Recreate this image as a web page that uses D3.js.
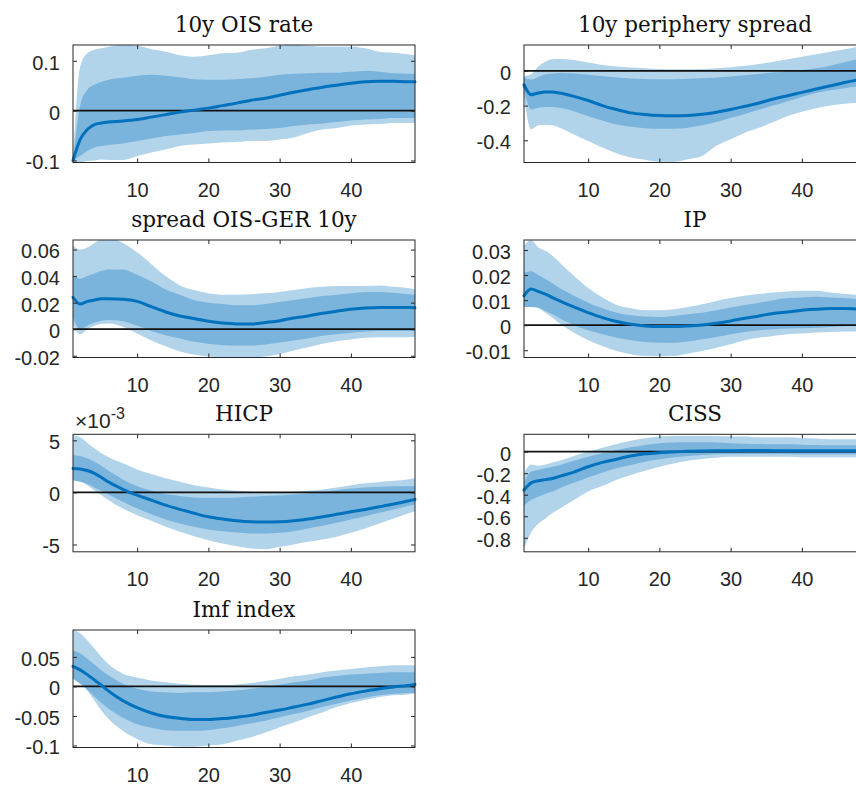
<!DOCTYPE html>
<html>
<head>
<meta charset="utf-8">
<script src="https://cdn.jsdelivr.net/npm/d3@7"></script>
<style>
  html, body { margin: 0; padding: 0; background: #ffffff; }
  svg { display: block; overflow: hidden; }
</style>
</head>
<body>
<svg id="chart" width="856" height="787"></svg>
<script>
// Impulse responses: median with 68% (inner) and 90% (outer) credible bands
const horizons = [1, 2, 3, 4, 5, 6, 8, 10, 12, 14, 16, 18, 20, 22, 24, 26, 28, 30, 32, 34, 36, 38, 40, 42, 44, 46, 48, 49];
const xTicks = [10, 20, 30, 40];

// 10y OIS rate
const oisMedian  = [-0.1, -0.058, -0.038, -0.028, -0.025, -0.023, -0.021, -0.018, -0.013, -0.008, -0.003, 0.001, 0.005, 0.010, 0.015, 0.021, 0.025, 0.031, 0.037, 0.042, 0.047, 0.051, 0.055, 0.058, 0.059, 0.059, 0.058, 0.058];
const oisInnerHi = [-0.1, 0.010, 0.042, 0.052, 0.058, 0.062, 0.066, 0.070, 0.072, 0.070, 0.067, 0.063, 0.062, 0.062, 0.063, 0.065, 0.068, 0.072, 0.074, 0.075, 0.076, 0.076, 0.078, 0.080, 0.078, 0.075, 0.074, 0.074];
const oisInnerLo = [-0.1, -0.091, -0.081, -0.074, -0.071, -0.069, -0.066, -0.061, -0.056, -0.051, -0.048, -0.045, -0.041, -0.040, -0.040, -0.038, -0.037, -0.035, -0.031, -0.028, -0.026, -0.023, -0.020, -0.018, -0.017, -0.015, -0.015, -0.015];
const oisOuterHi = [-0.1, 0.088, 0.115, 0.122, 0.125, 0.128, 0.132, 0.130, 0.123, 0.118, 0.111, 0.108, 0.111, 0.115, 0.116, 0.122, 0.125, 0.130, 0.132, 0.130, 0.128, 0.128, 0.128, 0.125, 0.118, 0.116, 0.113, 0.111];
const oisOuterLo = [-0.1, -0.104, -0.101, -0.100, -0.098, -0.099, -0.099, -0.091, -0.084, -0.078, -0.071, -0.068, -0.066, -0.064, -0.063, -0.061, -0.061, -0.058, -0.054, -0.045, -0.038, -0.035, -0.030, -0.028, -0.027, -0.025, -0.025, -0.025];
const oisLimits = [-0.104, 0.1316];
const oisTicks = [-0.1, 0, 0.1];

// 10y periphery spread
const perMedian  = [-0.08, -0.137, -0.128, -0.122, -0.122, -0.128, -0.147, -0.171, -0.200, -0.223, -0.242, -0.251, -0.257, -0.259, -0.257, -0.250, -0.238, -0.223, -0.204, -0.185, -0.162, -0.143, -0.124, -0.105, -0.086, -0.067, -0.051, -0.044];
const perInnerHi = [-0.04, -0.05, -0.035, -0.02, -0.015, -0.012, -0.015, -0.022, -0.030, -0.038, -0.044, -0.047, -0.048, -0.048, -0.046, -0.043, -0.038, -0.032, -0.025, -0.018, -0.010, -0.003, 0.005, 0.015, 0.030, 0.050, 0.068, 0.074];
const perInnerLo = [-0.109, -0.223, -0.213, -0.208, -0.208, -0.213, -0.232, -0.261, -0.286, -0.309, -0.322, -0.330, -0.333, -0.333, -0.328, -0.314, -0.295, -0.270, -0.248, -0.223, -0.200, -0.175, -0.150, -0.128, -0.112, -0.100, -0.088, -0.083];
const perOuterHi = [-0.03, -0.02, 0.025, 0.053, 0.067, 0.069, 0.063, 0.048, 0.034, 0.025, 0.019, 0.015, 0.011, 0.010, 0.010, 0.011, 0.015, 0.021, 0.029, 0.040, 0.053, 0.067, 0.082, 0.095, 0.110, 0.124, 0.140, 0.145];
const perOuterLo = [-0.147, -0.337, -0.314, -0.310, -0.314, -0.328, -0.366, -0.404, -0.442, -0.474, -0.499, -0.512, -0.524, -0.524, -0.509, -0.490, -0.432, -0.394, -0.356, -0.328, -0.295, -0.260, -0.235, -0.215, -0.200, -0.190, -0.185, -0.183];
const perLimits = [-0.528, 0.149];
const perTicks = [-0.4, -0.2, 0];

// spread OIS-GER 10y
const gerMedian  = [0.024, 0.019, 0.021, 0.022, 0.023, 0.023, 0.0226, 0.021, 0.017, 0.013, 0.010, 0.008, 0.006, 0.0046, 0.004, 0.004, 0.005, 0.0064, 0.0085, 0.010, 0.012, 0.0136, 0.015, 0.016, 0.0164, 0.0164, 0.0164, 0.0162];
const gerInnerHi = [0.041, 0.038, 0.040, 0.042, 0.044, 0.045, 0.045, 0.041, 0.036, 0.030, 0.026, 0.022, 0.020, 0.019, 0.018, 0.018, 0.019, 0.0205, 0.022, 0.0236, 0.025, 0.026, 0.027, 0.028, 0.028, 0.0274, 0.0264, 0.026];
const gerInnerLo = [0.009, 0.000, 0.0026, 0.005, 0.0064, 0.007, 0.006, 0.0026, -0.0013, -0.0046, -0.007, -0.0095, -0.011, -0.012, -0.0123, -0.0123, -0.0115, -0.010, -0.0085, -0.007, -0.005, -0.0038, -0.0026, -0.0018, -0.0013, -0.0013, -0.0013, -0.0013];
const gerOuterHi = [0.063, 0.060, 0.0615, 0.065, 0.068, 0.069, 0.065, 0.058, 0.049, 0.040, 0.033, 0.0295, 0.027, 0.026, 0.026, 0.0264, 0.027, 0.028, 0.0295, 0.031, 0.032, 0.0326, 0.0326, 0.0326, 0.033, 0.032, 0.031, 0.030];
const gerOuterLo = [0.0038, -0.0038, 0.000, 0.0026, 0.004, 0.0044, 0.0018, -0.0033, -0.0085, -0.0128, -0.0167, -0.019, -0.0205, -0.021, -0.021, -0.021, -0.0205, -0.0187, -0.016, -0.0136, -0.011, -0.009, -0.0077, -0.0064, -0.006, -0.006, -0.006, -0.0059];
const gerLimits = [-0.0213, 0.0672];
const gerTicks = [-0.02, 0, 0.02, 0.04, 0.06];

// IP
const ipMedian  = [0.0117, 0.0144, 0.0135, 0.0124, 0.011, 0.0097, 0.0073, 0.005, 0.003, 0.0015, 0.0004, -0.0003, -0.0005, -0.0005, -0.0003, 0.0001, 0.0008, 0.0017, 0.0028, 0.0037, 0.0047, 0.0053, 0.006, 0.0064, 0.0067, 0.0067, 0.0064, 0.0063];
const ipInnerHi = [0.021, 0.0215, 0.020, 0.0184, 0.0167, 0.0148, 0.0117, 0.009, 0.0068, 0.005, 0.004, 0.0035, 0.0033, 0.0037, 0.0044, 0.005, 0.006, 0.0071, 0.0081, 0.009, 0.010, 0.0108, 0.011, 0.0113, 0.011, 0.0108, 0.0104, 0.0103];
const ipInnerLo = [0.0073, 0.0073, 0.007, 0.0057, 0.0044, 0.0028, 0.000, -0.002, -0.0036, -0.005, -0.006, -0.0067, -0.007, -0.007, -0.0065, -0.0056, -0.0047, -0.0036, -0.0027, -0.002, -0.0016, -0.0013, -0.0012, -0.001, -0.0007, -0.0004, -0.0003, -0.0003];
const ipOuterHi = [0.0317, 0.034, 0.031, 0.0297, 0.0277, 0.025, 0.0197, 0.0148, 0.011, 0.0081, 0.0068, 0.006, 0.006, 0.0064, 0.0073, 0.0084, 0.0097, 0.0108, 0.0117, 0.0124, 0.013, 0.0134, 0.0137, 0.0137, 0.013, 0.0124, 0.0121, 0.012];
const ipOuterLo = [0.0084, 0.0084, 0.007, 0.005, 0.003, 0.0007, -0.0029, -0.006, -0.0083, -0.0103, -0.0116, -0.0123, -0.0124, -0.0123, -0.0113, -0.0103, -0.009, -0.0076, -0.006, -0.005, -0.0043, -0.0036, -0.0033, -0.0029, -0.0027, -0.0025, -0.0025, -0.0025];
const ipLimits = [-0.0129, 0.034];
const ipTicks = [-0.01, 0, 0.01, 0.02, 0.03];

// HICP
const hicpMedian  = [0.00230, 0.00225, 0.00210, 0.00183, 0.00144, 0.00100, 0.00030, -0.00026, -0.00074, -0.00122, -0.00163, -0.00200, -0.00234, -0.00256, -0.00272, -0.00282, -0.00285, -0.00282, -0.00272, -0.00256, -0.00234, -0.00210, -0.00186, -0.00163, -0.00138, -0.00112, -0.00083, -0.00067];
const hicpInnerHi = [0.00360, 0.00350, 0.00327, 0.00295, 0.00253, 0.00208, 0.00125, 0.00060, 0.00016, -0.00016, -0.00035, -0.00048, -0.00051, -0.00051, -0.00048, -0.00042, -0.00035, -0.00029, -0.00019, -0.00010, 0.00006, 0.00022, 0.00038, 0.00048, 0.00054, 0.00060, 0.00060, 0.00060];
const hicpInnerLo = [0.00118, 0.00103, 0.00080, 0.00048, 0.00016, -0.00019, -0.00090, -0.00154, -0.00210, -0.00260, -0.00298, -0.00330, -0.00356, -0.00372, -0.00385, -0.00394, -0.00394, -0.00388, -0.00372, -0.00346, -0.00320, -0.00292, -0.00260, -0.00228, -0.00196, -0.00163, -0.00131, -0.00115];
const hicpOuterHi = [0.00550, 0.00530, 0.00478, 0.00423, 0.00375, 0.00337, 0.00279, 0.00221, 0.00176, 0.00135, 0.00103, 0.00070, 0.00048, 0.00029, 0.00016, 0.00006, 0.00003, 0.00003, 0.00006, 0.00016, 0.00029, 0.00048, 0.00070, 0.00087, 0.00100, 0.00112, 0.00125, 0.00135];
const hicpOuterLo = [0.00150, 0.00118, 0.00070, 0.00022, -0.00026, -0.00074, -0.00154, -0.00218, -0.00272, -0.00330, -0.00378, -0.00420, -0.00458, -0.00490, -0.00516, -0.00538, -0.00545, -0.00522, -0.00500, -0.00474, -0.00452, -0.00426, -0.00388, -0.00346, -0.00298, -0.00250, -0.00202, -0.00180];
const hicpLimits = [-0.0057, 0.00558];
const hicpTicks = [-0.005, 0, 0.005];
const hicpExponent = -3;

// CISS
const cissMedian  = [-0.357, -0.29, -0.27, -0.26, -0.25, -0.23, -0.19, -0.14, -0.10, -0.07, -0.04, -0.02, -0.01, -0.003, 0.003, 0.006, 0.008, 0.009, 0.01, 0.01, 0.009, 0.009, 0.008, 0.008, 0.008, 0.008, 0.008, 0.008];
const cissInnerHi = [-0.28, -0.186, -0.17, -0.155, -0.14, -0.124, -0.084, -0.047, -0.016, 0.016, 0.04, 0.062, 0.078, 0.084, 0.087, 0.087, 0.084, 0.078, 0.074, 0.071, 0.068, 0.068, 0.065, 0.062, 0.059, 0.059, 0.059, 0.059];
const cissInnerLo = [-0.5, -0.45, -0.42, -0.39, -0.37, -0.34, -0.29, -0.24, -0.195, -0.155, -0.124, -0.093, -0.071, -0.053, -0.04, -0.031, -0.025, -0.022, -0.022, -0.022, -0.022, -0.022, -0.025, -0.025, -0.025, -0.025, -0.025, -0.025];
const cissOuterHi = [-0.2, -0.12, -0.13, -0.12, -0.10, -0.084, -0.04, 0.0, 0.037, 0.071, 0.102, 0.124, 0.14, 0.146, 0.146, 0.146, 0.146, 0.14, 0.14, 0.133, 0.133, 0.133, 0.127, 0.121, 0.115, 0.115, 0.115, 0.115];
const cissOuterLo = [-0.9, -0.75, -0.67, -0.62, -0.57, -0.53, -0.45, -0.37, -0.32, -0.26, -0.217, -0.177, -0.14, -0.109, -0.084, -0.068, -0.056, -0.047, -0.047, -0.047, -0.047, -0.047, -0.053, -0.053, -0.053, -0.053, -0.053, -0.053];
const cissLimits = [-0.93, 0.161];
const cissTicks = [-0.8, -0.6, -0.4, -0.2, 0];

// Imf index
const imfMedian  = [0.034, 0.028, 0.020, 0.011, 0.002, -0.008, -0.024, -0.036, -0.045, -0.051, -0.054, -0.056, -0.056, -0.0545, -0.052, -0.049, -0.044, -0.040, -0.035, -0.030, -0.024, -0.018, -0.0125, -0.008, -0.004, -0.001, 0.0017, 0.0034];
const imfInnerHi = [0.061, 0.056, 0.047, 0.0375, 0.027, 0.019, 0.0045, -0.004, -0.0085, -0.010, -0.011, -0.010, -0.0097, -0.0085, -0.007, -0.004, -0.001, 0.003, 0.007, 0.010, 0.015, 0.0176, 0.020, 0.0216, 0.0227, 0.024, 0.024, 0.024];
const imfInnerLo = [0.013, 0.0045, -0.0057, -0.017, -0.028, -0.038, -0.053, -0.064, -0.070, -0.074, -0.075, -0.075, -0.074, -0.071, -0.067, -0.0625, -0.058, -0.052, -0.0466, -0.041, -0.035, -0.0295, -0.024, -0.019, -0.015, -0.0125, -0.011, -0.0105];
const imfOuterHi = [0.0955, 0.090, 0.078, 0.064, 0.050, 0.0375, 0.0216, 0.015, 0.010, 0.007, 0.0045, 0.003, 0.0023, 0.0023, 0.0034, 0.0057, 0.009, 0.013, 0.017, 0.020, 0.024, 0.027, 0.0295, 0.032, 0.034, 0.036, 0.036, 0.036];
const imfOuterLo = [0.024, 0.010, -0.0068, -0.024, -0.041, -0.055, -0.075, -0.089, -0.098, -0.100, -0.102, -0.102, -0.100, -0.098, -0.092, -0.086, -0.078, -0.069, -0.061, -0.052, -0.044, -0.035, -0.028, -0.023, -0.018, -0.015, -0.0136, -0.0125];
const imfLimits = [-0.1034, 0.0955];
const imfTicks = [-0.1, -0.05, 0, 0.05];

const panels = [
  { title: "10y OIS rate", med: oisMedian, iHi: oisInnerHi, iLo: oisInnerLo, oHi: oisOuterHi, oLo: oisOuterLo, lim: oisLimits, ticks: oisTicks },
  { title: "10y periphery spread", med: perMedian, iHi: perInnerHi, iLo: perInnerLo, oHi: perOuterHi, oLo: perOuterLo, lim: perLimits, ticks: perTicks },
  { title: "spread OIS-GER 10y", med: gerMedian, iHi: gerInnerHi, iLo: gerInnerLo, oHi: gerOuterHi, oLo: gerOuterLo, lim: gerLimits, ticks: gerTicks },
  { title: "IP", med: ipMedian, iHi: ipInnerHi, iLo: ipInnerLo, oHi: ipOuterHi, oLo: ipOuterLo, lim: ipLimits, ticks: ipTicks },
  { title: "HICP", med: hicpMedian, iHi: hicpInnerHi, iLo: hicpInnerLo, oHi: hicpOuterHi, oLo: hicpOuterLo, lim: hicpLimits, ticks: hicpTicks, exp: hicpExponent },
  { title: "CISS", med: cissMedian, iHi: cissInnerHi, iLo: cissInnerLo, oHi: cissOuterHi, oLo: cissOuterLo, lim: cissLimits, ticks: cissTicks },
  { title: "Imf index", med: imfMedian, iHi: imfInnerHi, iLo: imfInnerLo, oHi: imfOuterHi, oLo: imfOuterLo, lim: imfLimits, ticks: imfTicks }
];

// Layout of the 4x2 grid of axes
const colLeft = [73, 524];
const rowTop = [45, 240, 434.3, 630];
const plotW = 342;
const plotH = 117.5;

const lightBlue = "#b1d4eb";
const midBlue = "#7ab3dc";
const lineBlue = "#0072bd";
const axisInk = "#262626";
const tickFont = "'Liberation Sans', Arial, Helvetica, sans-serif";
const titleFont = "'DejaVu Serif', 'Liberation Serif', serif";

const svg = d3.select("#chart");
const x = d3.scaleLinear().domain([1, 49]).range([0, plotW]);

function fmt(v, exp) {
  const s = exp ? v / Math.pow(10, exp) : v;
  const r = Math.round(s * 1e6) / 1e6;
  return String(r);
}

panels.forEach((p, i) => {
  const left = colLeft[i % 2];
  const top = rowTop[Math.floor(i / 2)];
  const y = d3.scaleLinear().domain(p.lim).range([plotH, 0]);
  const g = svg.append("g").attr("transform", `translate(${left},${top})`);

  const clipId = "clip" + i;
  g.append("clipPath").attr("id", clipId)
    .append("rect").attr("x", 0).attr("y", 0).attr("width", plotW).attr("height", plotH);

  const rows = horizons.map((h, k) => ({ h, med: p.med[k], iHi: p.iHi[k], iLo: p.iLo[k], oHi: p.oHi[k], oLo: p.oLo[k] }));
  const curve = d3.curveMonotoneX;

  const outer = d3.area().curve(curve).x(d => x(d.h)).y0(d => y(d.oLo)).y1(d => y(d.oHi));
  const inner = d3.area().curve(curve).x(d => x(d.h)).y0(d => y(d.iLo)).y1(d => y(d.iHi));
  const line = d3.line().curve(curve).x(d => x(d.h)).y(d => y(d.med));

  const bands = g.append("g").attr("clip-path", `url(#${clipId})`);
  bands.append("path").datum(rows).attr("d", outer).attr("fill", lightBlue);
  bands.append("path").datum(rows).attr("d", inner).attr("fill", midBlue);

  // zero reference line
  g.append("line")
    .attr("x1", 0).attr("x2", plotW)
    .attr("y1", y(0)).attr("y2", y(0))
    .attr("stroke", "#111").attr("stroke-width", 1.8);

  // median response
  g.append("path").datum(rows).attr("d", line)
    .attr("fill", "none").attr("stroke", lineBlue)
    .attr("stroke-width", 3).attr("stroke-linecap", "round");

  // axes: bottom labels, inward ticks on all four sides
  const xb = d3.axisBottom(x).tickValues(xTicks).tickSizeInner(-4).tickSizeOuter(0).tickPadding(20);
  const gx = g.append("g").attr("transform", `translate(0,${plotH})`).call(xb);
  const xt = d3.axisTop(x).tickValues(xTicks).tickSizeInner(-4).tickSizeOuter(0).tickFormat("");
  const gxt = g.append("g").call(xt);
  const yl = d3.axisLeft(y).tickValues(p.ticks).tickSizeInner(-4).tickSizeOuter(0).tickPadding(13)
    .tickFormat(v => fmt(v, p.exp));
  const gy = g.append("g").call(yl);
  const yr = d3.axisRight(y).tickValues(p.ticks).tickSizeInner(-4).tickSizeOuter(0).tickFormat("");
  const gyr = g.append("g").attr("transform", `translate(${plotW},0)`).call(yr);

  [gx, gxt, gy, gyr].forEach(a => {
    a.attr("font-size", null).attr("font-family", null);
    a.select(".domain").remove();
    a.selectAll(".tick line").attr("stroke", axisInk).attr("stroke-width", 1);
    a.selectAll(".tick text")
      .attr("fill", axisInk)
      .attr("font-family", tickFont)
      .attr("font-size", 20);
  });
  gy.selectAll(".tick text").attr("dy", "0.42em");
  gx.selectAll(".tick text").attr("dy", "0.71em");

  // axes box
  g.append("rect")
    .attr("x", 0).attr("y", 0).attr("width", plotW).attr("height", plotH)
    .attr("fill", "none").attr("stroke", axisInk).attr("stroke-width", 1);

  // title
  g.append("text")
    .attr("x", plotW / 2).attr("y", -13)
    .attr("text-anchor", "middle")
    .attr("fill", "#111")
    .attr("font-family", titleFont)
    .attr("font-size", 21.5)
    .text(p.title);

  // axis exponent
  if (p.exp) {
    const t = g.append("text")
      .attr("x", 2).attr("y", -6)
      .attr("fill", axisInk)
      .attr("font-family", tickFont)
      .attr("font-size", 21);
    t.append("tspan").text("\u00d710");
    t.append("tspan").attr("dy", -9).attr("font-size", 16).text(String(p.exp));
  }
});
</script>
</body>
</html>
